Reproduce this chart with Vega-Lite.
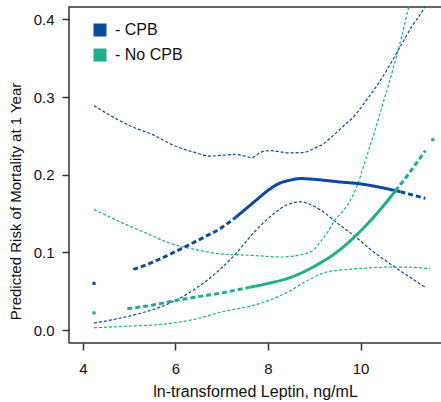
{
  "$schema": "https://vega.github.io/schema/vega-lite/v6.json",
  "width": 374,
  "height": 336,
  "autosize": "none",
  "padding": {"left": 69, "top": 7, "right": -2, "bottom": 59},
  "config": {
    "view": {"stroke": "#333", "strokeWidth": 1.5},
    "font": "Liberation Sans",
    "axis": {"grid": false, "domain": false, "tickColor": "#333", "tickWidth": 1.5, "tickSize": 7, "labelColor": "#111", "titleColor": "#111", "labelFontSize": 15, "titleFontSize": 15, "titleFontWeight": "normal", "labelFont": "Liberation Sans", "titleFont": "Liberation Sans"}
  },
  "datasets": {
    "ci": [
      {"group": "CPB", "bound": "upper", "x": 4.24, "y": 0.289},
      {"group": "CPB", "bound": "upper", "x": 4.6, "y": 0.276},
      {"group": "CPB", "bound": "upper", "x": 5.09, "y": 0.261},
      {"group": "CPB", "bound": "upper", "x": 5.45, "y": 0.253},
      {"group": "CPB", "bound": "upper", "x": 6.03, "y": 0.236},
      {"group": "CPB", "bound": "upper", "x": 6.4, "y": 0.229},
      {"group": "CPB", "bound": "upper", "x": 6.75, "y": 0.224},
      {"group": "CPB", "bound": "upper", "x": 7.0, "y": 0.225},
      {"group": "CPB", "bound": "upper", "x": 7.3, "y": 0.226},
      {"group": "CPB", "bound": "upper", "x": 7.5, "y": 0.224},
      {"group": "CPB", "bound": "upper", "x": 7.65, "y": 0.222},
      {"group": "CPB", "bound": "upper", "x": 7.85, "y": 0.229},
      {"group": "CPB", "bound": "upper", "x": 8.05, "y": 0.231},
      {"group": "CPB", "bound": "upper", "x": 8.3, "y": 0.229},
      {"group": "CPB", "bound": "upper", "x": 8.5, "y": 0.228},
      {"group": "CPB", "bound": "upper", "x": 8.8, "y": 0.229},
      {"group": "CPB", "bound": "upper", "x": 9.0, "y": 0.234},
      {"group": "CPB", "bound": "upper", "x": 9.2, "y": 0.240},
      {"group": "CPB", "bound": "upper", "x": 9.4, "y": 0.250},
      {"group": "CPB", "bound": "upper", "x": 9.6, "y": 0.261},
      {"group": "CPB", "bound": "upper", "x": 9.87, "y": 0.276},
      {"group": "CPB", "bound": "upper", "x": 10.1, "y": 0.294},
      {"group": "CPB", "bound": "upper", "x": 10.38, "y": 0.317},
      {"group": "CPB", "bound": "upper", "x": 10.6, "y": 0.338},
      {"group": "CPB", "bound": "upper", "x": 10.81, "y": 0.360},
      {"group": "CPB", "bound": "upper", "x": 11.1, "y": 0.390},
      {"group": "CPB", "bound": "upper", "x": 11.39, "y": 0.416},
      {"group": "CPB", "bound": "upper", "x": 11.5, "y": 0.428},
      {"group": "CPB", "bound": "lower", "x": 4.24, "y": 0.009},
      {"group": "CPB", "bound": "lower", "x": 4.7, "y": 0.014},
      {"group": "CPB", "bound": "lower", "x": 5.2, "y": 0.021},
      {"group": "CPB", "bound": "lower", "x": 5.6, "y": 0.028},
      {"group": "CPB", "bound": "lower", "x": 6.0, "y": 0.038},
      {"group": "CPB", "bound": "lower", "x": 6.5, "y": 0.056},
      {"group": "CPB", "bound": "lower", "x": 6.98, "y": 0.079},
      {"group": "CPB", "bound": "lower", "x": 7.3, "y": 0.098},
      {"group": "CPB", "bound": "lower", "x": 7.7, "y": 0.126},
      {"group": "CPB", "bound": "lower", "x": 8.13, "y": 0.150},
      {"group": "CPB", "bound": "lower", "x": 8.4, "y": 0.161},
      {"group": "CPB", "bound": "lower", "x": 8.71, "y": 0.165},
      {"group": "CPB", "bound": "lower", "x": 8.9, "y": 0.162},
      {"group": "CPB", "bound": "lower", "x": 9.15, "y": 0.154},
      {"group": "CPB", "bound": "lower", "x": 9.51, "y": 0.137},
      {"group": "CPB", "bound": "lower", "x": 9.87, "y": 0.121},
      {"group": "CPB", "bound": "lower", "x": 10.23, "y": 0.103},
      {"group": "CPB", "bound": "lower", "x": 10.74, "y": 0.081},
      {"group": "CPB", "bound": "lower", "x": 11.4, "y": 0.055},
      {"group": "No CPB", "bound": "upper", "x": 4.24, "y": 0.155},
      {"group": "No CPB", "bound": "upper", "x": 4.6, "y": 0.145},
      {"group": "No CPB", "bound": "upper", "x": 5.0, "y": 0.134},
      {"group": "No CPB", "bound": "upper", "x": 5.4, "y": 0.124},
      {"group": "No CPB", "bound": "upper", "x": 5.82, "y": 0.113},
      {"group": "No CPB", "bound": "upper", "x": 6.4, "y": 0.104},
      {"group": "No CPB", "bound": "upper", "x": 6.98, "y": 0.098},
      {"group": "No CPB", "bound": "upper", "x": 7.69, "y": 0.096},
      {"group": "No CPB", "bound": "upper", "x": 8.28, "y": 0.094},
      {"group": "No CPB", "bound": "upper", "x": 8.79, "y": 0.098},
      {"group": "No CPB", "bound": "upper", "x": 9.0, "y": 0.104},
      {"group": "No CPB", "bound": "upper", "x": 9.15, "y": 0.115},
      {"group": "No CPB", "bound": "upper", "x": 9.3, "y": 0.127},
      {"group": "No CPB", "bound": "upper", "x": 9.44, "y": 0.141},
      {"group": "No CPB", "bound": "upper", "x": 9.6, "y": 0.152},
      {"group": "No CPB", "bound": "upper", "x": 9.78, "y": 0.167},
      {"group": "No CPB", "bound": "upper", "x": 9.95, "y": 0.190},
      {"group": "No CPB", "bound": "upper", "x": 10.1, "y": 0.218},
      {"group": "No CPB", "bound": "upper", "x": 10.3, "y": 0.255},
      {"group": "No CPB", "bound": "upper", "x": 10.5, "y": 0.295},
      {"group": "No CPB", "bound": "upper", "x": 10.7, "y": 0.336},
      {"group": "No CPB", "bound": "upper", "x": 10.88, "y": 0.376},
      {"group": "No CPB", "bound": "upper", "x": 11.04, "y": 0.416},
      {"group": "No CPB", "bound": "upper", "x": 11.2, "y": 0.455},
      {"group": "No CPB", "bound": "lower", "x": 4.24, "y": 0.003},
      {"group": "No CPB", "bound": "lower", "x": 5.0, "y": 0.005},
      {"group": "No CPB", "bound": "lower", "x": 5.82, "y": 0.008},
      {"group": "No CPB", "bound": "lower", "x": 6.5, "y": 0.015},
      {"group": "No CPB", "bound": "lower", "x": 6.98, "y": 0.023},
      {"group": "No CPB", "bound": "lower", "x": 7.7, "y": 0.032},
      {"group": "No CPB", "bound": "lower", "x": 8.1, "y": 0.040},
      {"group": "No CPB", "bound": "lower", "x": 8.43, "y": 0.049},
      {"group": "No CPB", "bound": "lower", "x": 8.86, "y": 0.064},
      {"group": "No CPB", "bound": "lower", "x": 9.29, "y": 0.075},
      {"group": "No CPB", "bound": "lower", "x": 9.73, "y": 0.078},
      {"group": "No CPB", "bound": "lower", "x": 10.2, "y": 0.080},
      {"group": "No CPB", "bound": "lower", "x": 10.59, "y": 0.081},
      {"group": "No CPB", "bound": "lower", "x": 11.0, "y": 0.081},
      {"group": "No CPB", "bound": "lower", "x": 11.5, "y": 0.079}
    ],
    "est": [
      {"group": "CPB", "seg": "CPB-1", "density": "sparse", "x": 5.09, "y": 0.078},
      {"group": "CPB", "seg": "CPB-1", "density": "sparse", "x": 5.5, "y": 0.087},
      {"group": "CPB", "seg": "CPB-1", "density": "sparse", "x": 6.0, "y": 0.101},
      {"group": "CPB", "seg": "CPB-1", "density": "sparse", "x": 6.5, "y": 0.116},
      {"group": "CPB", "seg": "CPB-1", "density": "sparse", "x": 7.0, "y": 0.132},
      {"group": "CPB", "seg": "CPB-1", "density": "sparse", "x": 7.3, "y": 0.145},
      {"group": "CPB", "seg": "CPB-2", "density": "dense", "x": 7.3, "y": 0.145},
      {"group": "CPB", "seg": "CPB-2", "density": "dense", "x": 7.5, "y": 0.155},
      {"group": "CPB", "seg": "CPB-2", "density": "dense", "x": 7.74, "y": 0.167},
      {"group": "CPB", "seg": "CPB-2", "density": "dense", "x": 8.05, "y": 0.182},
      {"group": "CPB", "seg": "CPB-2", "density": "dense", "x": 8.25, "y": 0.189},
      {"group": "CPB", "seg": "CPB-2", "density": "dense", "x": 8.48, "y": 0.193},
      {"group": "CPB", "seg": "CPB-2", "density": "dense", "x": 8.7, "y": 0.195},
      {"group": "CPB", "seg": "CPB-2", "density": "dense", "x": 9.0, "y": 0.194},
      {"group": "CPB", "seg": "CPB-2", "density": "dense", "x": 9.57, "y": 0.1905},
      {"group": "CPB", "seg": "CPB-2", "density": "dense", "x": 9.95, "y": 0.1885},
      {"group": "CPB", "seg": "CPB-2", "density": "dense", "x": 10.4, "y": 0.184},
      {"group": "CPB", "seg": "CPB-2", "density": "dense", "x": 10.86, "y": 0.178},
      {"group": "CPB", "seg": "CPB-3", "density": "sparse", "x": 10.86, "y": 0.178},
      {"group": "CPB", "seg": "CPB-3", "density": "sparse", "x": 11.4, "y": 0.1695},
      {"group": "No CPB", "seg": "No-1", "density": "sparse", "x": 4.96, "y": 0.0275},
      {"group": "No CPB", "seg": "No-1", "density": "sparse", "x": 5.5, "y": 0.032},
      {"group": "No CPB", "seg": "No-1", "density": "sparse", "x": 6.0, "y": 0.038},
      {"group": "No CPB", "seg": "No-1", "density": "sparse", "x": 6.5, "y": 0.043},
      {"group": "No CPB", "seg": "No-1", "density": "sparse", "x": 6.98, "y": 0.0476},
      {"group": "No CPB", "seg": "No-1", "density": "sparse", "x": 7.6, "y": 0.055},
      {"group": "No CPB", "seg": "No-2", "density": "dense", "x": 7.6, "y": 0.055},
      {"group": "No CPB", "seg": "No-2", "density": "dense", "x": 8.0, "y": 0.060},
      {"group": "No CPB", "seg": "No-2", "density": "dense", "x": 8.5, "y": 0.068},
      {"group": "No CPB", "seg": "No-2", "density": "dense", "x": 9.0, "y": 0.082},
      {"group": "No CPB", "seg": "No-2", "density": "dense", "x": 9.5, "y": 0.101},
      {"group": "No CPB", "seg": "No-2", "density": "dense", "x": 9.87, "y": 0.120},
      {"group": "No CPB", "seg": "No-2", "density": "dense", "x": 10.2, "y": 0.140},
      {"group": "No CPB", "seg": "No-2", "density": "dense", "x": 10.59, "y": 0.167},
      {"group": "No CPB", "seg": "No-2", "density": "dense", "x": 10.75, "y": 0.179},
      {"group": "No CPB", "seg": "No-3", "density": "sparse", "x": 10.75, "y": 0.179},
      {"group": "No CPB", "seg": "No-3", "density": "sparse", "x": 11.0, "y": 0.198},
      {"group": "No CPB", "seg": "No-3", "density": "sparse", "x": 11.4, "y": 0.231}
    ],
    "pts": [
      {"group": "CPB", "x": 4.24, "y": 0.060},
      {"group": "No CPB", "x": 4.24, "y": 0.022},
      {"group": "No CPB", "x": 11.56, "y": 0.245}
    ]
  },
  "layer": [
    {
      "data": {"name": "pts"},
      "mark": {"type": "point", "shape": "square", "filled": true, "opacity": 1, "size": 10, "clip": true},
      "encoding": {
        "x": {"field": "x", "type": "quantitative", "scale": {"domain": [3.7, 11.78], "nice": false, "zero": false},
          "axis": {"values": [4, 6, 8, 10], "labelPadding": 11, "title": "ln-transformed Leptin, ng/mL", "titleFontSize": 16, "titlePadding": 7, "titleX": 186}},
        "y": {"field": "y", "type": "quantitative", "scale": {"domain": [-0.0167, 0.4159], "nice": false, "zero": false},
          "axis": {"values": [0, 0.1, 0.2, 0.3, 0.4], "format": ".1f", "labelPadding": 8, "title": "Predicted Risk of Mortality at 1 Year", "titlePadding": 10, "titleY": 194}},
        "color": {"field": "group", "type": "nominal", "scale": {"domain": ["CPB", "No CPB"], "range": ["#0b4a9e", "#1fae8a"]},
          "legend": {"title": null, "orient": "none", "legendX": 23, "legendY": 15, "symbolType": "square", "symbolSize": 169, "symbolStrokeWidth": 0, "labelFontSize": 16, "labelColor": "#111", "labelOffset": 7, "rowPadding": 9, "padding": 0, "labelExpr": "'- ' + datum.label"}}
      }
    },
    {
      "data": {"name": "ci"},
      "mark": {"type": "line", "strokeWidth": 1.2, "strokeDash": [3, 2], "clip": true, "interpolate": "monotone"},
      "encoding": {
        "x": {"field": "x", "type": "quantitative"},
        "y": {"field": "y", "type": "quantitative"},
        "color": {"field": "group", "type": "nominal"},
        "detail": {"field": "bound"}
      }
    },
    {
      "data": {"name": "est"},
      "mark": {"type": "line", "strokeWidth": 3, "clip": true, "interpolate": "monotone"},
      "encoding": {
        "x": {"field": "x", "type": "quantitative"},
        "y": {"field": "y", "type": "quantitative"},
        "color": {"field": "group", "type": "nominal"},
        "detail": {"field": "seg"},
        "strokeDash": {"field": "density", "type": "nominal", "scale": {"domain": ["dense", "sparse"], "range": [[1, 0], [5, 3]]}, "legend": null}
      }
    }
  ]
}
